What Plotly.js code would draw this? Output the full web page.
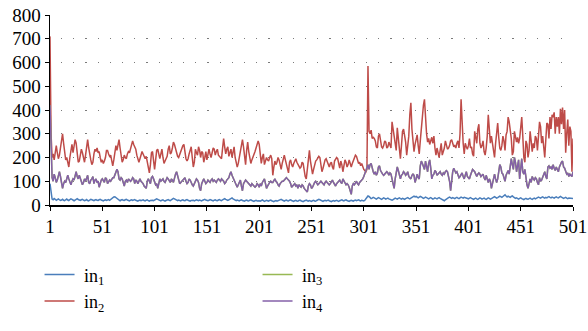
<!DOCTYPE html>
<html>
<head>
<meta charset="utf-8">
<script src="https://cdn.plot.ly/plotly-3.0.1.min.js"></script>
<style>
html,body{margin:0;padding:0;background:#fff;}
#chart{width:588px;height:331px;}
</style>
</head>
<body>
<div id="chart"></div>
<script>
const xTickVals = [1, 51, 101, 151, 201, 251, 301, 351, 401, 451, 501];
const seriesNames = ["in<sub>1</sub>", "in<sub>2</sub>", "in<sub>3</sub>", "in<sub>4</sub>"];

const in1 = [
90,45,25,22,27,24,20,23,26,22, 19,21,24,20,18,22,25,21,19,23,
26,24,20,18,21,25,27,23,20,19, 22,24,21,18,20,23,19,17,21,24,
22,20,18,21,23,20,19,22,24,21, 18,17,20,22,19,21,23,20,24,27,
30,34,35,31,26,22,20,18,21,23, 20,19,22,24,21,18,17,20,22,19,
21,23,20,18,16,19,21,18,20,22, 19,17,20,22,18,16,19,21,20,18,
20,23,26,24,21,19,17,20,22,18, 16,19,21,23,20,18,22,25,28,26,
23,20,18,21,19,17,20,22,19,18, 21,23,20,18,16,19,21,20,17,19,
22,20,18,21,19,17,20,22,24,21, 19,18,20,23,21,19,17,20,22,19,
18,21,23,20,18,22,25,27,24,21, 19,22,25,28,30,26,22,20,18,21,
19,17,20,22,19,18,16,19,21,18, 17,20,22,19,17,15,18,20,17,19,
18,16,19,21,18,15,17,20,18,16, 19,21,18,16,14,17,19,16,18,20,
22,24,21,18,16,19,21,18,17,20, 22,19,17,15,18,20,17,16,19,21,
18,16,14,17,19,21,18,16,19,17, 15,18,20,17,16,19,21,24,22,19,
17,15,18,20,17,19,21,18,16,14, 17,19,16,18,20,17,15,18,20,22,
19,17,20,22,19,17,15,18,20,18, 16,19,21,18,20,22,19,17,20,18,
17,20,26,32,38,36,30,27,29,32, 30,27,25,28,31,29,26,24,27,30,
28,25,27,29,26,24,22,20,23,26, 29,27,25,28,30,27,25,28,26,24,
27,29,31,28,26,29,32,35,37,34, 36,33,30,33,36,34,31,28,30,33,
31,28,26,29,31,28,25,27,30,28, 26,29,31,28,26,24,20,18,22,26,
29,31,33,30,28,31,29,27,30,32, 29,27,30,33,31,29,32,30,28,27,
26,29,31,28,26,24,27,29,26,24, 27,30,28,25,27,29,26,24,27,30,
28,25,27,30,33,35,32,29,31,34, 37,35,32,36,40,43,38,34,37,35,
32,36,38,34,31,28,30,27,25,28, 30,27,25,23,26,28,25,24,27,29,
26,24,27,29,26,28,30,33,31,29, 32,34,31,29,32,30,33,35,32,30,
33,31,29,32,34,31,30,33,36,33, 30,28,30,32,29,27,29,28,26,28,27
];

const in2 = [
710,300,200,215,190,230,250,220,195,210, 240,270,300,260,220,190,200,175,160,200,
240,255,220,250,275,260,210,180,185,215, 235,220,190,180,210,250,275,240,205,190,
170,180,215,235,225,240,220,225,200,180, 190,175,185,200,230,230,215,205,210,190,
165,190,235,250,230,260,275,240,195,180, 190,210,200,195,215,225,220,240,255,270,
255,245,235,210,190,180,195,215,225,215, 200,195,205,180,150,135,170,220,225,175,
150,190,230,235,205,195,215,235,200,175, 185,200,205,235,250,215,220,240,265,255,
235,220,205,200,215,230,240,250,255,220, 195,185,195,215,235,245,200,160,180,235,
220,210,245,230,200,225,220,180,200,225, 190,210,235,215,200,220,240,235,210,225,
235,210,205,200,195,240,280,245,215,235, 245,205,225,235,200,220,245,200,170,160,
175,200,240,265,275,245,215,170,230,265, 225,195,175,190,200,215,225,240,255,270,
255,225,175,200,215,170,185,200,190,185, 200,210,195,125,160,185,170,180,200,190,
170,150,175,195,210,190,170,150,135,180, 190,170,160,175,185,195,180,170,165,155,
160,180,175,140,120,110,150,200,230,185, 160,130,150,175,185,190,200,205,200,165,
140,155,180,190,195,185,170,160,175,180, 160,150,185,195,200,195,170,155,185,170,
140,175,190,180,160,170,190,175,160,175, 185,200,210,205,185,175,180,165,175,160,
150,145,140,150,585,310,300,315,280,285, 280,270,245,240,290,300,265,245,240,250,
270,265,240,245,265,250,240,350,320,290, 250,230,325,280,225,195,250,310,320,290,
265,210,240,290,380,430,320,270,225,255, 275,295,250,215,270,330,360,420,445,360,
300,265,280,255,270,285,260,290,240,210, 240,220,200,230,260,210,225,240,270,250,
235,240,250,270,275,260,245,250,240,260, 270,240,300,445,330,260,215,260,245,235,
250,280,240,245,215,205,310,290,260,320, 340,260,240,250,270,225,210,240,290,380,
290,260,290,255,215,200,260,320,345,285, 240,230,250,290,270,230,295,310,370,350,
320,280,210,225,310,290,265,285,260,280, 340,370,290,200,180,270,255,200,230,310,
270,225,260,240,290,280,230,290,350,330, 260,290,240,200,275,345,340,280,370,320,
380,370,390,300,370,330,370,300,405,340, 410,320,400,220,300,360,250,330,310,140,280
];

const in4 = [
420,200,115,100,130,115,95,105,125,140, 120,90,70,90,100,95,110,125,110,95,
85,100,110,105,125,140,120,110,125,110, 90,85,95,110,100,115,125,95,90,105,
110,120,90,105,110,95,100,75,95,105, 110,100,95,115,110,90,100,105,100,110,
115,115,130,145,150,140,110,105,115,110, 90,80,100,105,95,110,105,100,105,115,
110,90,105,100,90,105,110,100,95,90, 80,75,70,100,110,100,90,115,120,110,
100,85,90,70,90,110,100,105,110,100, 95,105,115,110,100,95,110,105,95,115,
130,140,120,105,90,95,100,105,110,115, 100,90,95,110,105,90,85,80,90,100,
110,105,95,70,60,90,105,110,100,90, 95,105,100,95,105,110,100,105,100,95,
105,110,105,100,110,105,100,90,95,105, 110,115,130,140,125,115,105,95,80,75,
85,100,105,80,60,90,100,105,100,95, 90,85,80,90,85,80,75,80,90,85,
75,90,80,95,105,110,90,70,80,90, 95,100,95,95,105,110,100,95,85,80,
90,95,100,100,105,110,115,110,105,100, 90,75,80,85,90,80,85,70,85,80,
75,85,80,70,65,60,55,80,90,85, 70,75,90,95,100,90,85,90,95,100,
95,90,85,95,100,95,90,85,90,100, 105,95,85,80,90,95,100,105,95,90,
110,100,95,85,90,85,75,55,45,80, 90,85,95,100,90,85,95,100,105,110,
120,135,150,160,170,150,170,175,150,140, 130,140,125,135,160,165,145,135,130,125,
130,135,140,135,125,135,130,110,90,70, 110,140,160,145,125,110,125,130,140,135,
125,130,140,120,115,110,125,130,125,95, 110,130,115,110,165,185,175,160,150,185,
165,140,175,190,155,110,125,130,145,140, 125,130,135,140,130,125,135,130,140,145,
140,120,100,60,110,140,155,140,135,140, 130,115,120,130,135,120,110,125,140,120,
115,110,125,135,150,145,140,130,120,130, 135,130,120,125,130,115,105,125,110,95,
110,100,70,95,120,130,110,95,110,135, 170,160,135,130,110,100,125,135,145,130,
160,195,170,150,200,180,140,160,190,110, 150,195,140,130,150,110,85,70,100,110,
95,120,110,105,115,110,95,85,115,100, 105,120,125,140,120,110,160,165,155,160,
150,170,155,145,160,150,140,160,175,180, 185,160,155,140,130,135,120,130,125,120,140
];

// in3 is listed in the legend but is not visible in the plot (hidden beneath in4)
const in3 = in4.slice();

const colors = ["#4A7EBB", "#BE4B48", "#98B954", "#8460A8"];
const xIdx = in1.map((_, i) => i + 1);

const serif = "Liberation Serif, Times New Roman, serif";
const allSeries = [in1, in2, in3, in4];
const ranks = [1, 3, 2, 4];

const traces = allSeries.map((ys, k) => ({
  type: "scatter",
  mode: "lines",
  x: xIdx,
  y: ys,
  name: "\u00a0" + seriesNames[k],
  line: {color: colors[k], width: 1.5},
  legendrank: ranks[k],
  hoverinfo: "skip"
}));

const layout = {
  width: 588,
  height: 331,
  margin: {l: 50, r: 15, t: 15, b: 110},
  paper_bgcolor: "#ffffff",
  plot_bgcolor: "#ffffff",
  font: {family: serif, size: 19, color: "#000"},
  showlegend: true,
  legend: {
    orientation: "h",
    x: -0.02,
    xanchor: "left",
    y: -0.27,
    yanchor: "top",
    entrywidth: 173,
    entrywidthmode: "pixels",
    font: {family: serif, size: 18, color: "#000"},
    bgcolor: "rgba(0,0,0,0)",
    traceorder: "normal",
    itemwidth: 30
  },
  xaxis: {
    range: [1, 501],
    tickvals: xTickVals,
    ticktext: xTickVals.map(String),
    showgrid: false,
    zeroline: false,
    showline: true,
    linecolor: "#000",
    linewidth: 1.5,
    ticks: "outside",
    ticklen: 4,
    tickcolor: "#000",
    tickfont: {family: serif, size: 19, color: "#000"},
    fixedrange: true
  },
  yaxis: {
    range: [0, 800],
    dtick: 100,
    tick0: 0,
    showgrid: true,
    gridcolor: "#7a7a7a",
    gridwidth: 1,
    griddash: "0px,11px,1.2px,0px",
    zeroline: false,
    showline: true,
    linecolor: "#000",
    linewidth: 1.5,
    ticks: "outside",
    ticklen: 4,
    tickcolor: "#000",
    tickfont: {family: serif, size: 19, color: "#000"},
    fixedrange: true
  }
};

Plotly.newPlot("chart", traces, layout, {displayModeBar: false, staticPlot: true});
</script>
</body>
</html>
